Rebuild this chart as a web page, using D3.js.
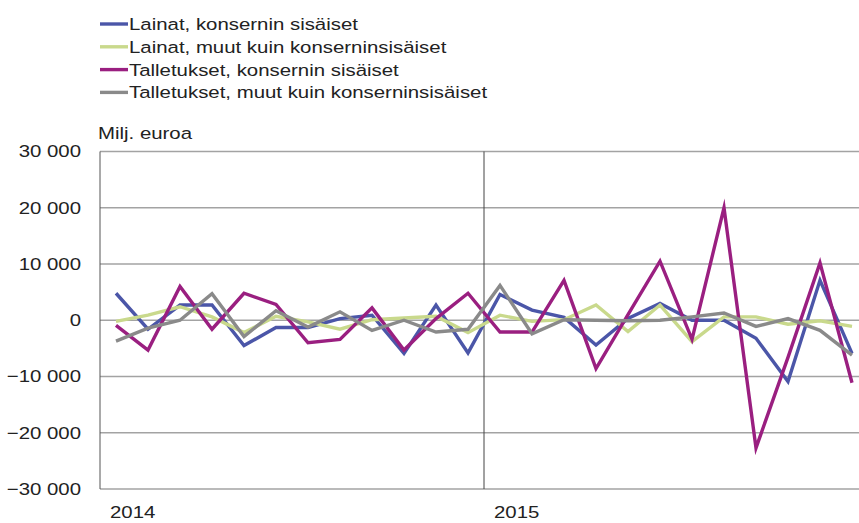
<!DOCTYPE html>
<html>
<head>
<meta charset="utf-8">
<script src="https://cdn.jsdelivr.net/npm/d3@7"></script>
<style>
  html, body { margin: 0; padding: 0; background: #fff; }
  svg { display: block; font-family: "Liberation Sans", Arial, sans-serif; }
</style>
</head>
<body>
<svg id="chart" width="859" height="523"></svg>
<script>
// Monthly periods 2014–2015
const months = [
  "2014M01","2014M02","2014M03","2014M04","2014M05","2014M06",
  "2014M07","2014M08","2014M09","2014M10","2014M11","2014M12",
  "2015M01","2015M02","2015M03","2015M04","2015M05","2015M06",
  "2015M07","2015M08","2015M09","2015M10","2015M11","2015M12"
];
const yearLabels = ["2014", "2015"];
const yTicks = [-30000, -20000, -10000, 0, 10000, 20000, 30000];

const seriesNames = [
  "Lainat, konsernin sisäiset",
  "Lainat, muut kuin konserninsisäiset",
  "Talletukset, konsernin sisäiset",
  "Talletukset, muut kuin konserninsisäiset"
];

// Values, million euro
const lainatSisaiset = [4800,-1600,2700,2700,-4500,-1300,-1300,300,900,-5900,2700,-5800,
                        4600,1800,500,-4400,300,3000,0,0,-3200,-10900,7100,-5900];
const lainatMuut     = [-200,900,2400,600,-2200,700,-300,-1600,100,400,700,-2200,
                        900,-200,100,2700,-2000,2700,-3800,600,600,-700,-100,-1100];
const talletSisaiset = [-900,-5300,6000,-1600,4800,2800,-4000,-3400,2200,-5300,300,4800,
                        -2100,-2100,7100,-8600,1000,10500,-3400,20000,-22700,-6600,10200,-11100];
const talletMuut     = [-3700,-1400,0,4700,-2900,1700,-1200,1500,-1800,0,-2100,-1600,
                        6200,-2400,100,0,-100,0,600,1300,-1100,300,-1800,-6200];

const seriesValues = [lainatSisaiset, lainatMuut, talletSisaiset, talletMuut];
const colors = ["#4b56a8", "#c9d98c", "#9a1f80", "#8a8a8a"];

const svg = d3.select("#chart");
const plotLeft = 100, plotRight = 868, plotTop = 151.5, plotBottom = 489;
const fontSize = 17, stretch = 1.2;   // text is set slightly wide

const x = d3.scaleBand().domain(months).range([plotLeft, plotRight]).padding(0);
const y = d3.scaleLinear().domain([-30000, 30000]).range([plotBottom, plotTop]);

// Place a text element at (px, py) with the wide letterform
function wideText(sel, px, py) {
  return sel
    .attr("transform", (d, i) => `translate(${typeof px === "function" ? px(d, i) : px},${typeof py === "function" ? py(d, i) : py}) scale(${stretch},1)`)
    .attr("font-size", fontSize)
    .attr("fill", "#222");
}

// Horizontal grid
svg.append("g").selectAll("line").data(yTicks).join("line")
  .attr("x1", plotLeft).attr("x2", 859)
  .attr("y1", d => y(d)).attr("y2", d => y(d))
  .attr("stroke", "#a3a3a3").attr("stroke-width", 1.5);

// Y axis labels
const fmt = v => d3.format(",")(v).replace(/,/g, " ");
wideText(svg.append("g").selectAll("text").data(yTicks).join("text"), 81, d => y(d))
  .attr("dy", "0.35em")
  .attr("text-anchor", "end")
  .text(d => fmt(d));

wideText(svg.append("text"), 98, 139).text("Milj. euroa");

// Left axis and year separators
svg.append("line")
  .attr("x1", plotLeft).attr("x2", plotLeft).attr("y1", plotTop).attr("y2", plotBottom)
  .attr("stroke", "#555").attr("stroke-width", 1);
const yearStarts = ["2014M01", "2015M01"];
svg.append("g").selectAll("line").data(yearStarts.slice(1)).join("line")
  .attr("x1", d => x(d)).attr("x2", d => x(d))
  .attr("y1", plotTop).attr("y2", plotBottom)
  .attr("stroke", "#444").attr("stroke-width", 1);

wideText(svg.append("g").selectAll("text").data(yearLabels).join("text"),
         (d, i) => x(yearStarts[i]) + 10, 518)
  .text(d => d);

// Series lines
const line = d3.line()
  .x((d, i) => x(months[i]) + x.bandwidth() / 2)
  .y(d => y(d));

svg.append("g").selectAll("path").data(seriesValues).join("path")
  .attr("d", d => line(d))
  .attr("fill", "none")
  .attr("stroke", (d, i) => colors[i])
  .attr("stroke-width", 3.4)
  .attr("stroke-linejoin", "miter")
  .attr("stroke-miterlimit", 10);

// Legend
const legend = svg.append("g").selectAll("g").data(seriesNames).join("g")
  .attr("transform", (d, i) => `translate(100, ${24 + i * 22.8})`);
legend.append("line")
  .attr("x1", 0).attr("x2", 28).attr("y1", 0).attr("y2", 0)
  .attr("stroke", (d, i) => colors[i]).attr("stroke-width", 3.4);
wideText(legend.append("text"), 29, 0)
  .attr("dy", "0.35em")
  .text(d => d);
</script>
</body>
</html>
